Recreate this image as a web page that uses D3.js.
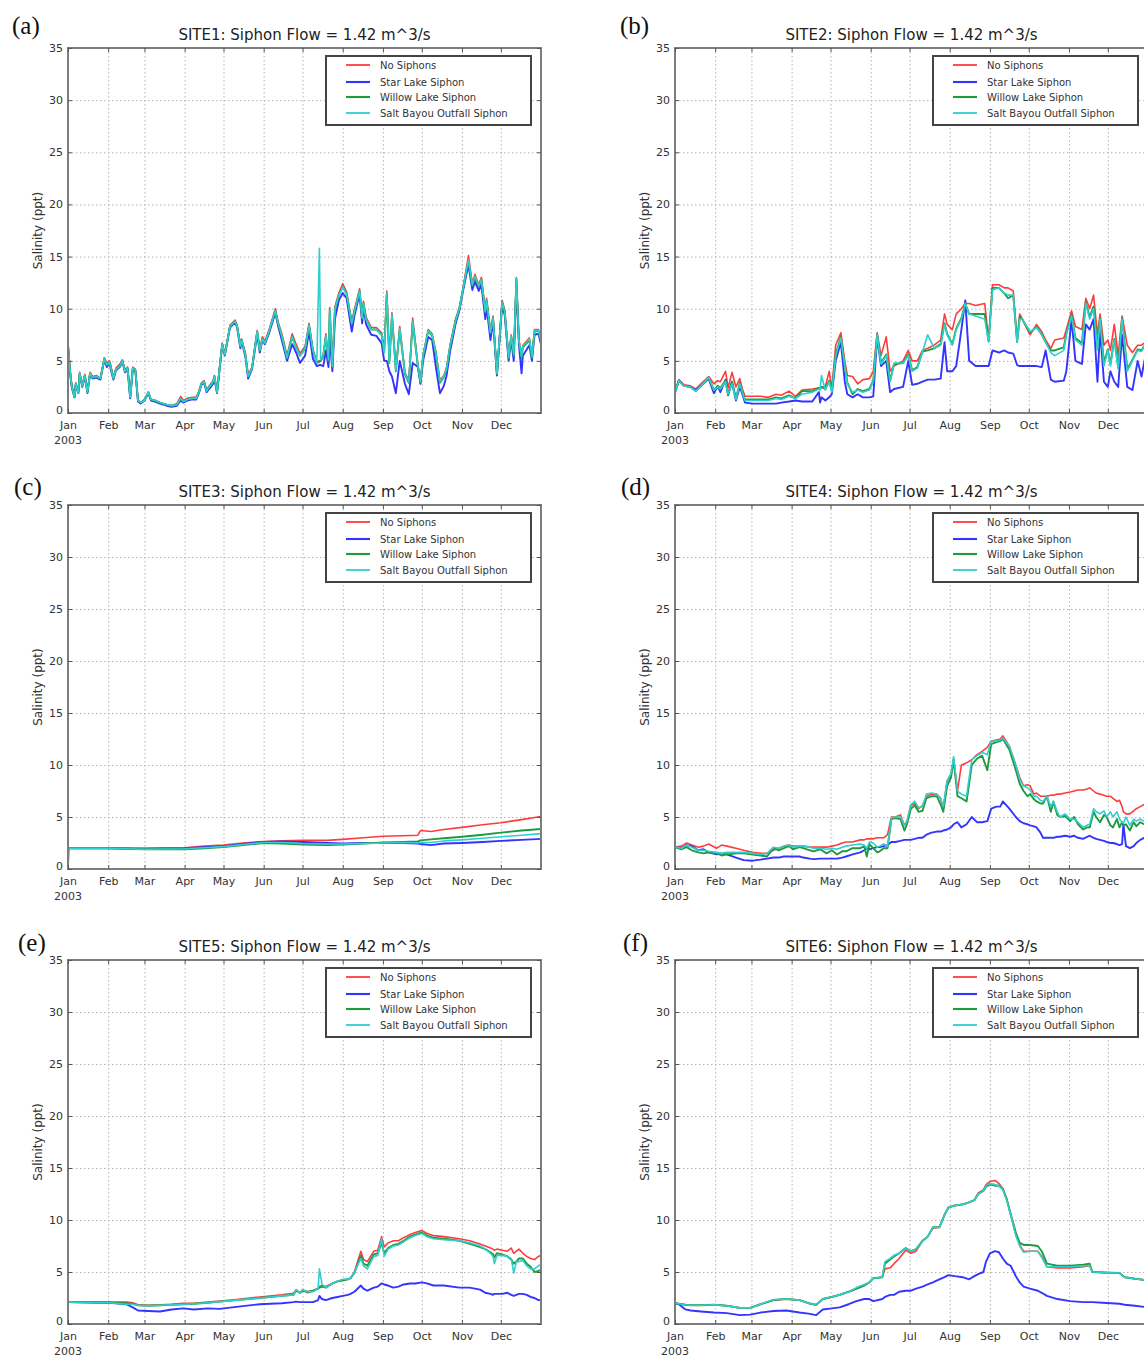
<!DOCTYPE html>
<html>
<head>
<meta charset="utf-8">
<script src="https://cdn.jsdelivr.net/npm/d3@7"></script>
<style>
  body { margin: 0; background: #fff; }
  svg text { font-family: "DejaVu Sans", sans-serif; }
</style>
</head>
<body>
<svg id="chart" width="1144" height="1358"></svg>
<script>
// ---- shared labels ----
const monthLabels = ["Jan","Feb","Mar","Apr","May","Jun","Jul","Aug","Sep","Oct","Nov","Dec"];
const yTickValues = [0, 5, 10, 15, 20, 25, 30, 35];
const seriesNames = ["No Siphons", "Star Lake Siphon", "Willow Lake Siphon", "Salt Bayou Outfall Siphon"];
const siteTitles = [
  "SITE1: Siphon Flow = 1.42 m^3/s", "SITE2: Siphon Flow = 1.42 m^3/s",
  "SITE3: Siphon Flow = 1.42 m^3/s", "SITE4: Siphon Flow = 1.42 m^3/s",
  "SITE5: Siphon Flow = 1.42 m^3/s", "SITE6: Siphon Flow = 1.42 m^3/s"
];
const panelLetters = ["(a)", "(b)", "(c)", "(d)", "(e)", "(f)"];
const yearLabel = "2003";
const yAxisTitle = "Salinity (ppt)";

// ---- SITE1 salinity (ppt), by day of year 2003 ----
const site1Days = [
  0,2,3,5,6,8,9,11,13,15, 17,19,22,25,28,30,32,33,35,37, 40,42,44,46,48,50,52,54,56,59,
  62,64,67,71,76,80,84,87,89,92, 96,99,101,103,105,107,109,112,113,115,
  119,121,125,129,130.5,133,134,137,139,142, 146,148,150,152,155,160,162,165,169,173,
  176,179,183,186,189,192,194,195,197,199, 201,202,204,206,209,212,215,219,221,225,
  227,228,230,234,238,242,244,246,248,250, 253,256,260,263,266,270,272,274,278,281,
  284,287,290,292,295,299,302,305,309,312, 314,317,319,322,323,326,328,331,335,337,
  340,342,344,346,348,350,351,356,358,360, 363,365];
const site1NoSiphons = [
  6.6,3.6,2.6,1.6,2.9,2.0,3.9,2.7,3.7,2.1, 3.9,3.5,3.6,3.3,5.3,4.8,5.0,4.6,3.4,4.3, 4.7,5.1,4.1,4.4,1.6,4.4,4.2,1.2,1.0,1.3,
  2.0,1.3,1.2,1.0,0.8,0.7,0.9,1.6,1.2,1.4, 1.5,1.5,2.1,2.9,3.1,2.2,2.6,3.1,3.6,2.1,
  6.7,5.7,8.4,8.9,8.4,6.6,7.1,5.7,3.6,4.4, 7.9,6.1,7.3,6.9,7.9,10.0,8.8,7.6,5.5,7.6,
  6.6,5.7,6.4,8.6,6.1,4.9,5.0,5.1,5.6,7.6, 5.2,10.1,4.6,10.2,11.5,12.4,11.6,8.8,9.9,11.9,
  9.3,10.7,9.2,8.2,8.2,7.7,6.0,11.7,5.0,9.6, 4.2,8.3,3.9,3.1,9.1,4.6,3.0,5.6,8.0,7.6,
  5.8,3.1,3.6,4.3,6.6,9.0,10.1,12.1,15.1,12.4, 13.3,12.3,13.0,9.9,11.0,7.9,9.3,3.8,10.8,9.9,
  5.4,7.5,5.7,13.0,7.0,5.5,6.5,7.2,5.5,8.0, 8.0,7.0];
const site1StarLake = [
  6.4,3.4,2.4,1.5,2.7,1.9,3.7,2.5,3.5,1.9, 3.7,3.3,3.4,3.2,5.1,4.4,4.8,4.2,3.2,4.1, 4.4,4.9,3.9,4.2,1.4,4.2,4.0,1.1,0.9,1.2,
  1.9,1.2,1.1,0.9,0.7,0.6,0.7,1.2,1.0,1.2, 1.3,1.3,1.9,2.7,2.9,2.0,2.3,2.8,3.3,1.9,
  6.5,5.5,8.2,8.7,8.2,6.2,6.9,5.3,3.3,4.2, 7.6,5.8,7.0,6.6,7.6,9.6,8.4,7.0,5.0,6.6,
  5.8,4.8,5.5,7.8,5.2,4.5,4.6,4.6,4.5,6.0, 4.4,7.2,4.0,9.0,10.8,11.5,11.0,7.8,9.3,11.4,
  8.6,10.2,8.5,7.5,7.4,6.7,5.0,5.0,4.0,3.5, 1.9,5.0,2.8,1.8,4.8,4.4,2.8,5.0,7.3,7.0,
  4.3,1.9,2.6,3.5,6.0,8.5,9.8,11.8,14.2,11.8, 12.6,11.7,12.3,9.0,10.2,7.0,8.8,3.6,10.3,9.4,
  5.0,7.0,5.0,12.3,6.5,3.8,5.5,6.5,5.0,7.5, 7.6,6.6];
const site1WillowLake = [
  6.5,3.5,2.5,1.5,2.8,2.0,3.8,2.6,3.6,2.0, 3.8,3.4,3.5,3.3,5.2,4.6,4.9,4.4,3.3,4.2, 4.5,5.0,4.0,4.3,1.5,4.3,4.1,1.2,1.0,1.2,
  2.0,1.3,1.2,1.0,0.8,0.7,0.8,1.4,1.1,1.3, 1.4,1.4,2.0,2.8,3.0,2.1,2.5,3.0,3.5,2.0,
  6.6,5.6,8.3,8.8,8.3,6.4,7.0,5.5,3.5,4.3, 7.8,6.0,7.1,6.7,7.8,9.8,8.6,7.4,5.3,7.3,
  6.3,5.5,6.2,8.4,6.0,4.8,4.9,5.0,5.4,7.3, 5.0,9.8,4.4,10.0,11.3,12.1,11.4,8.6,9.7,11.7,
  9.1,10.5,9.0,8.0,8.0,7.5,5.8,11.4,4.8,9.3, 4.0,8.0,3.7,2.9,8.7,4.5,2.9,5.4,7.9,7.4,
  5.6,2.9,3.4,4.1,6.5,8.8,10.0,12.0,14.6,12.2, 13.0,12.1,12.8,9.7,10.8,7.7,9.1,3.7,10.6,9.7,
  5.3,7.3,5.5,12.8,6.8,5.3,6.3,7.0,5.3,7.8, 7.9,6.9];
const site1SaltBayou = [
  6.5,3.5,2.5,1.5,2.8,1.9,3.8,2.6,3.6,2.0, 3.8,3.4,3.5,3.3,5.2,4.6,4.9,4.4,3.3,4.2, 4.5,5.0,4.0,4.3,1.5,4.3,4.1,1.2,1.0,1.2,
  2.0,1.3,1.2,1.0,0.8,0.7,0.8,1.4,1.1,1.3, 1.4,1.4,2.0,2.8,3.0,2.1,2.5,3.0,3.5,2.0,
  6.6,5.6,8.3,8.8,8.3,6.4,7.0,5.5,3.5,4.3, 7.8,6.0,7.1,6.7,7.8,9.8,8.6,7.4,5.3,7.3,
  6.3,5.5,6.2,8.4,6.0,4.8,15.8,5.1,5.5,7.4, 5.1,9.9,4.5,10.0,11.3,12.1,11.4,8.6,9.7,11.7,
  9.1,10.5,9.0,8.0,8.0,7.5,5.8,11.5,4.9,9.4, 4.1,8.1,3.8,3.0,8.8,4.5,3.0,5.5,7.9,7.5,
  5.7,3.0,3.5,4.2,6.5,8.8,10.0,12.0,14.7,12.3, 13.1,12.2,12.8,9.7,10.8,7.7,9.1,3.8,10.6,9.7,
  5.3,7.4,5.6,12.9,6.9,5.4,6.4,7.1,5.4,7.9, 7.9,6.9];

// ---- SITE2 ----
const site2Days = [
  0,3,7,12,16,20,26,30,33,35, 39,41,44,47,50,52,54,60,66,72, 78,82,88,93,98,106,111,112,113,116,
  119,121,124,128,131,133,137,141,145,150, 153,156,159,163,166,169,176,180,183,187,
  191,195,200,205,208,210,214,217,221,224, 227,232,239,242,245,250,254,257,261,264,
  266,268,274,279,283,286,290,293,300,302, 306,309,314,317,320,323,326,328,331,334,
  336,339,342,345,349,353,357,360,365];
const site2NoSiphons = [
  2.0,3.2,2.7,2.6,2.3,2.8,3.5,2.8,3.1,3.0, 4.0,2.4,3.9,2.5,3.3,2.3,1.6,1.6,1.6,1.5, 1.8,1.7,2.1,1.6,2.2,2.3,2.4,2.4,2.5,2.5,
  4.0,2.3,6.5,7.7,5.0,3.6,3.5,2.8,3.2,3.3, 4.0,7.7,5.5,7.3,4.0,4.5,5.0,6.0,5.0,5.0,
  6.0,6.2,6.5,7.0,9.5,8.5,8.0,9.5,10.0,10.5, 10.5,10.3,10.5,7.0,12.3,12.3,12.0,12.0,11.7,7.0,
  9.5,9.0,7.5,8.5,7.8,7.0,6.2,7.0,7.2,8.0, 9.8,8.3,8.0,11.0,10.0,11.3,7.5,9.5,6.5,7.0,
  6.0,8.5,5.5,9.3,6.5,5.8,6.5,6.5,7.0];
const site2StarLake = [
  2.0,3.1,2.6,2.5,2.2,2.6,3.3,1.9,2.6,2.0, 3.2,1.7,3.0,1.2,2.5,1.8,1.0,0.9,0.9,0.9, 0.9,1.0,1.1,1.2,1.1,1.1,2.0,1.0,1.5,1.2,
  1.5,1.8,5.0,6.8,3.0,1.8,1.5,1.8,1.5,1.5, 1.6,7.3,4.5,5.0,2.0,2.3,2.5,5.0,2.7,2.8,
  3.0,3.2,3.2,3.3,6.8,4.0,4.0,4.5,8.0,10.8, 5.0,4.5,4.5,4.5,6.0,5.8,6.0,5.8,5.7,4.6,
  4.5,4.5,4.5,4.5,4.4,6.0,3.2,3.0,3.1,4.0, 9.0,5.0,4.7,8.5,8.0,9.0,3.0,8.0,3.0,2.5,
  4.0,3.0,2.5,7.5,2.5,2.2,5.0,3.5,6.8];
const site2WillowLake = [
  2.0,3.1,2.6,2.5,2.1,2.6,3.4,2.2,2.6,2.4, 3.1,1.8,3.0,1.4,2.9,2.0,1.3,1.3,1.3,1.3, 1.5,1.4,1.7,1.4,2.1,2.1,2.4,2.3,2.5,2.3,
  3.1,2.1,5.6,7.3,4.6,2.9,1.8,2.3,2.1,2.3, 3.1,7.5,4.8,5.6,3.1,4.7,4.8,5.6,4.1,4.4,
  5.9,6.0,6.2,6.6,8.6,7.6,6.6,8.1,9.1,10.5, 9.5,9.5,9.5,6.9,12.0,12.0,11.5,11.0,11.3,6.8,
  9.2,9.0,7.7,8.3,7.5,6.8,6.0,6.0,6.3,7.6, 9.4,7.2,6.7,10.6,9.2,10.2,6.2,9.1,4.8,6.1,
  4.7,7.1,4.4,9.1,4.2,5.1,6.1,6.0,7.0];
const site2SaltBayou = [
  2.0,3.1,2.6,2.5,2.1,2.6,3.4,2.2,2.5,2.3, 3.0,1.8,2.8,1.3,2.8,2.0,1.2,1.2,1.2,1.2, 1.4,1.3,1.6,1.4,1.8,2.0,2.3,2.2,3.6,2.2,
  3.0,2.0,5.5,7.2,4.5,2.8,2.0,2.2,2.0,2.2, 3.0,7.5,4.7,5.5,3.0,4.8,4.8,5.5,4.0,4.3,
  5.9,7.5,6.2,6.5,8.5,7.5,6.5,8.0,9.0,10.5, 9.5,9.3,9.0,6.8,11.8,12.0,11.5,11.3,11.3,6.8,
  9.0,9.0,7.8,8.2,7.5,6.8,5.8,5.5,6.0,7.5, 9.3,7.0,6.5,10.5,9.0,10.0,6.0,9.0,4.5,6.0,
  4.5,7.0,4.2,9.0,4.0,5.0,6.0,5.9,7.0];

// ---- SITE3 ----
const site3Days = [0,1,31,59,90, 105,120,135,151,165, 181,200,212,228,243, 258,270,272,280,290, 304,320,334,350,365];
const site3NoSiphons = [2.0,2.0,2.0,2.0,2.05, 2.2,2.3,2.5,2.65,2.7, 2.75,2.75,2.85,3.0,3.15, 3.2,3.25,3.7,3.6,3.8, 4.0,4.25,4.45,4.75,5.05];
const site3StarLake = [2.0,2.0,2.0,1.95,2.0, 2.1,2.2,2.4,2.6,2.65, 2.6,2.5,2.45,2.5,2.5, 2.5,2.45,2.4,2.3,2.45, 2.5,2.6,2.7,2.8,2.9];
const site3WillowLake = [2.0,2.0,2.0,1.9,1.9, 2.0,2.1,2.3,2.5,2.45, 2.35,2.3,2.35,2.45,2.55, 2.6,2.65,2.75,2.85,2.95, 3.1,3.3,3.5,3.7,3.85];
const site3SaltBayou = [0.2,2.0,2.0,1.9,1.95, 2.05,2.15,2.35,2.55,2.55, 2.45,2.4,2.4,2.45,2.5, 2.55,2.5,2.55,2.55,2.7, 2.8,2.95,3.1,3.25,3.4];

// ---- SITE4 ----
const site4Days = [
  0,5,9,13,18,22,26,32,36,40, 47,53,60,66,71,76,80,84,88,91, 96,99,104,107,112,117,121,125,129,132,
  137,143,146,148,150,153,156,158,161,164, 167,170,174,177,179,182,185,188,191,194,
  198,202,205,207,210,213,215,218,221,225, 229,233,237,241,244,248,251,253,258,263,
  266,269,272,274,277,279,282,284,287,290, 292,295,297,301,305,308,311,315,318,320,
  323,325,328,331,333,336,338,341,343,345, 346,348,351,354,356,359,362,365];
const site4NoSiphons = [
  2.1,2.2,2.5,2.3,2.1,2.2,2.4,2.0,2.3,2.2, 2.0,1.8,1.6,1.5,1.5,1.8,2.0,2.2,2.3,2.2, 2.2,2.2,2.1,2.1,2.1,2.1,2.2,2.3,2.5,2.6,
  2.6,2.8,2.8,2.9,2.9,2.9,3.0,3.0,3.0,3.3, 5.0,5.0,5.2,4.2,4.6,6.1,6.3,5.8,6.1,7.0,
  7.2,7.2,6.8,5.8,8.5,9.0,10.6,7.5,10.0,10.2, 10.5,11.0,11.3,11.7,12.3,12.4,12.5,12.8,11.8,10.0,
  8.8,8.0,8.1,8.0,7.2,7.3,7.0,7.0,7.0,7.1, 7.1,7.2,7.2,7.3,7.4,7.5,7.6,7.6,7.7,7.8,
  7.5,7.3,7.2,7.1,7.0,7.0,6.8,6.5,6.6,6.0, 5.5,5.3,5.3,5.6,5.8,6.0,6.2,6.3];
const site4StarLake = [
  2.1,2.0,2.3,2.2,1.8,1.9,1.6,1.4,1.5,1.4, 1.1,0.85,0.8,0.9,1.0,1.1,1.1,1.2,1.2,1.2, 1.2,1.1,1.0,0.95,1.0,1.0,1.0,1.0,1.1,1.2,
  1.4,1.6,1.8,2.0,1.9,2.0,2.1,2.1,2.2,2.3, 2.6,2.6,2.7,2.8,2.8,2.8,2.9,3.0,3.0,3.3,
  3.5,3.6,3.6,3.7,3.8,4.0,4.3,4.5,4.0,4.3, 5.0,4.5,4.5,4.6,5.8,6.0,6.0,6.5,5.8,5.0,
  4.6,4.4,4.3,4.2,4.1,4.0,3.5,3.0,3.0,3.0, 3.0,3.1,3.1,3.2,3.1,3.2,3.0,2.9,3.1,3.2,
  3.0,2.9,2.8,2.7,2.6,2.5,2.5,2.4,2.3,2.4, 4.3,2.2,2.0,2.2,2.5,2.8,3.0,3.1];
const site4WillowLake = [
  2.1,1.9,2.1,1.8,1.6,1.5,1.6,1.5,1.3,1.4, 1.5,1.5,1.4,1.3,1.2,2.0,1.8,2.0,2.2,1.9, 2.1,2.0,1.8,1.7,1.9,1.5,1.8,1.4,1.7,1.7,
  2.0,2.0,2.2,1.2,2.4,2.0,1.6,1.7,2.0,2.0, 4.8,4.9,4.8,3.7,4.3,5.8,6.1,5.5,5.6,6.8,
  7.0,7.0,6.2,5.5,8.0,8.8,10.5,7.0,6.8,6.5, 10.0,10.6,10.9,9.5,12.0,12.2,12.3,12.5,11.5,9.5,
  8.2,7.5,7.0,7.2,6.7,6.5,6.3,6.3,7.0,5.5, 6.5,5.2,5.0,5.1,4.6,5.0,4.3,3.8,4.0,4.0,
  5.5,5.0,4.5,5.2,5.0,4.2,4.0,4.8,4.0,4.5, 4.2,4.3,3.7,4.5,4.1,4.5,4.3,4.6];
const site4SaltBayou = [
  2.1,2.0,2.3,2.1,1.8,1.8,1.7,1.6,1.5,1.6, 1.6,1.6,1.5,1.4,1.5,2.1,2.0,2.2,2.3,2.1, 2.2,2.2,2.1,2.0,2.0,1.9,2.0,1.9,2.1,2.2,
  2.3,2.4,2.3,2.0,2.6,2.5,2.1,2.2,2.4,2.2, 4.9,5.0,5.0,4.2,4.6,6.2,6.5,5.9,6.0,7.2,
  7.3,7.2,6.7,6.0,8.5,9.2,10.8,7.5,7.2,7.0, 10.5,10.9,11.2,11.0,12.3,12.3,12.4,12.6,11.8,10.0,
  8.6,8.0,7.8,7.6,7.0,7.0,6.6,6.5,7.0,6.0, 6.5,5.5,5.0,5.3,4.8,4.8,4.5,4.0,4.2,4.3,
  5.8,5.5,5.3,5.6,5.0,5.5,5.0,5.5,4.8,4.5, 4.4,5.0,4.2,4.8,4.6,4.8,4.6,4.8];

// ---- SITE5 ----
const site5Days = [
  0,32,45,50,54,62,71,80,89,97, 108,117,130,148,165,174,176,179,181,185,
  189,193,194,196,199,204,208,212,216,218, 221,226,228,231,236,239,242,244,247,251,
  255,259,264,268,273,277,282,290,302,310, 318,322,326,328,329,331,335,339,342,344,
  346,348,351,354,357,360,363,365];
const site5NoSiphons = [
  2.1,2.1,2.1,2.05,1.85,1.8,1.85,1.9,2.0,2.0, 2.1,2.2,2.35,2.6,2.8,2.95,3.3,3.0,3.3,3.0,
  3.2,3.4,3.6,3.7,3.6,3.9,4.1,4.2,4.3,4.4, 5.0,7.0,6.2,6.0,7.0,7.1,8.4,7.4,7.8,8.0,
  8.0,8.3,8.6,8.8,9.0,8.7,8.5,8.4,8.2,8.0, 7.7,7.5,7.3,7.2,7.1,7.2,7.1,7.0,7.3,6.8,
  7.0,7.2,6.8,6.5,6.3,6.2,6.5,6.6];
const site5StarLake = [
  2.1,2.05,1.9,1.6,1.3,1.25,1.2,1.4,1.5,1.4, 1.5,1.45,1.65,1.9,2.0,2.1,2.15,2.1,2.1,2.1,
  2.1,2.3,2.7,2.4,2.3,2.5,2.6,2.7,2.8,2.9, 3.1,3.7,3.4,3.2,3.5,3.6,3.9,3.8,3.7,3.5,
  3.6,3.8,3.9,3.9,4.0,3.9,3.7,3.7,3.5,3.5, 3.3,3.0,2.9,2.8,2.9,2.9,2.9,3.0,2.8,2.7,
  2.8,2.9,2.9,2.8,2.6,2.5,2.3,2.3];
const site5WillowLake = [
  2.1,2.05,2.0,1.95,1.8,1.75,1.8,1.85,1.9,1.95, 2.05,2.15,2.3,2.5,2.7,2.8,3.2,3.0,3.2,3.1,
  3.2,3.4,3.5,3.6,3.5,3.9,4.1,4.2,4.3,4.4, 4.9,6.6,5.8,5.6,6.7,6.8,7.8,6.8,7.3,7.6,
  7.7,8.0,8.4,8.6,8.8,8.5,8.3,8.2,8.0,7.7, 7.4,7.2,6.9,6.7,6.4,6.8,6.7,6.5,6.2,5.8,
  6.0,6.3,6.3,5.8,5.5,5.0,5.1,5.2];
const site5SaltBayou = [
  2.1,2.05,1.9,1.9,1.8,1.75,1.8,1.85,1.9,1.95, 2.05,2.15,2.3,2.5,2.7,2.8,3.3,3.0,3.3,3.1,
  3.1,3.4,5.3,3.8,3.5,3.9,4.1,4.3,4.3,4.4, 5.0,6.3,5.6,5.3,6.5,6.6,8.2,6.5,7.2,7.5,
  7.6,7.9,8.3,8.5,8.7,8.4,8.2,8.1,8.0,7.8, 7.5,7.2,6.8,6.5,5.8,6.6,6.6,6.5,6.3,4.9,
  6.0,6.0,6.1,5.6,5.3,5.3,5.6,5.7];

// ---- SITE6 ----
const site6Days = [
  0,3,8,12,20,30,40,50,58,66, 76,86,96,103,109,114,121,127,134,140,
  146,150,153,160,162,166,169,173,178,182, 186,191,195,199,204,208,211,216,222,227,
  231,234,238,240,243,247,250,253,256,259, 263,266,269,274,280,283,287,295,305,315,
  320,322,330,343,347,355,365];
const site6NoSiphons = [
  2.0,1.95,1.85,1.8,1.8,1.85,1.75,1.55,1.55,1.9, 2.3,2.4,2.3,2.0,1.8,2.4,2.6,2.8,3.1,3.4,
  3.7,4.0,4.4,4.5,5.3,5.4,5.8,6.3,7.1,6.8, 7.0,8.0,8.4,9.2,9.3,10.5,11.2,11.4,11.5,11.7,
  11.9,12.6,12.9,13.4,13.7,13.8,13.5,13.0,12.0,10.5, 8.6,7.6,7.0,7.0,7.0,6.5,5.5,5.4,5.4,5.5,
  5.6,5.0,4.95,4.9,4.5,4.35,4.2];
const site6StarLake = [
  2.0,1.9,1.4,1.3,1.2,1.1,1.05,0.85,0.9,1.1, 1.25,1.3,1.1,1.0,0.85,1.4,1.5,1.6,1.9,2.2,
  2.4,2.4,2.2,2.4,2.6,2.8,2.8,3.1,3.2,3.2, 3.4,3.6,3.8,4.0,4.3,4.5,4.7,4.6,4.5,4.3,
  4.6,4.8,5.0,6.0,6.8,7.0,6.9,6.3,5.8,5.6, 4.6,4.0,3.6,3.4,3.2,3.0,2.7,2.4,2.2,2.1,
  2.1,2.1,2.05,1.95,1.85,1.75,1.6];
const site6WillowLake = [
  2.0,1.95,1.85,1.8,1.8,1.85,1.75,1.55,1.55,1.9, 2.3,2.4,2.3,2.0,1.85,2.4,2.6,2.8,3.1,3.4,
  3.7,4.0,4.4,4.5,5.8,6.2,6.5,6.8,7.3,7.0, 7.2,8.0,8.4,9.3,9.3,10.5,11.2,11.4,11.5,11.7,
  11.9,12.5,12.8,13.2,13.4,13.3,13.3,13.0,12.0,10.6, 8.8,7.8,7.6,7.6,7.5,7.0,5.8,5.6,5.6,5.7,
  5.8,5.0,4.95,4.9,4.5,4.35,4.2];
const site6SaltBayou = [
  2.0,1.95,1.85,1.8,1.8,1.85,1.75,1.55,1.55,1.9, 2.35,2.4,2.3,2.0,1.85,2.4,2.6,2.8,3.1,3.5,
  3.8,4.0,4.4,4.5,6.0,6.3,6.6,6.8,7.3,7.0, 7.2,8.0,8.4,9.3,9.3,10.5,11.2,11.4,11.5,11.7,
  11.9,12.5,12.8,13.3,13.5,13.4,13.3,12.9,11.9,10.5, 8.5,7.5,6.9,7.0,7.0,6.4,5.5,5.5,5.5,5.6,
  5.6,5.0,4.95,4.9,4.5,4.35,4.2];

// ---- panel assembly ----
const sites = [
  { days: site1Days, values: [site1NoSiphons, site1StarLake, site1WillowLake, site1SaltBayou] },
  { days: site2Days, values: [site2NoSiphons, site2StarLake, site2WillowLake, site2SaltBayou] },
  { days: site3Days, values: [site3NoSiphons, site3StarLake, site3WillowLake, site3SaltBayou] },
  { days: site4Days, values: [site4NoSiphons, site4StarLake, site4WillowLake, site4SaltBayou] },
  { days: site5Days, values: [site5NoSiphons, site5StarLake, site5WillowLake, site5SaltBayou] },
  { days: site6Days, values: [site6NoSiphons, site6StarLake, site6WillowLake, site6SaltBayou] }
];

// ---- layout & style ----
const colLeft = [68, 675];
const rowTop = [48, 505, 960];
const rowHeight = [365, 364, 364];
const plotW = 473;
const letterPos = [[12, 34], [620, 34], [14, 495], [621, 495], [18, 951], [623, 951]];
const lineColors = ["#ff3c3c", "#3434ff", "#1f9a3e", "#2fcfcf"];
const lineWidths = [1.6, 1.9, 1.9, 1.6];

const svg = d3.select("#chart");
const t0 = new Date(Date.UTC(2003, 0, 1));
const dayToDate = d => new Date(t0.getTime() + d * 86400000);
const monthStarts = monthLabels.map((m, i) => new Date(Date.UTC(2003, i, 1)));

sites.forEach((site, idx) => {
  const col = idx % 2, row = Math.floor(idx / 2);
  const h = rowHeight[row];
  const x0 = colLeft[col], y0 = rowTop[row];

  const x = d3.scaleUtc().domain([t0, new Date(Date.UTC(2004, 0, 1))]).range([0, plotW]);
  const y = d3.scaleLinear().domain([0, 35]).range([h, 0]);

  const g = svg.append("g").attr("transform", `translate(${x0},${y0})`);

  // dotted grid
  const gx = g.append("g").call(d3.axisBottom(x).tickValues(monthStarts).tickSize(h).tickFormat(""));
  const gy = g.append("g").call(d3.axisLeft(y).tickValues(yTickValues).tickSize(-plotW).tickFormat(""));
  [gx, gy].forEach(a => {
    a.select(".domain").remove();
    a.selectAll("line").attr("stroke", "#b4b4b4").attr("stroke-width", 1).attr("stroke-dasharray", "1.5,2.5");
  });

  // series
  const clipId = "clip" + idx;
  g.append("clipPath").attr("id", clipId).append("rect").attr("width", plotW).attr("height", h);
  const line = d3.line()
    .defined(d => d[1] != null && !isNaN(d[1]))
    .x(d => x(dayToDate(d[0])))
    .y(d => y(d[1]));
  site.values.forEach((vals, s) => {
    const pts = site.days.map((d, i) => [d, vals[i]]);
    g.append("path")
      .attr("clip-path", `url(#${clipId})`)
      .attr("d", line(pts))
      .attr("fill", "none")
      .attr("stroke", lineColors[s])
      .attr("stroke-width", lineWidths[s])
      .attr("stroke-linejoin", "round");
  });

  // frame
  g.append("rect").attr("width", plotW).attr("height", h)
    .attr("fill", "none").attr("stroke", "#7d7d7d").attr("stroke-width", 2);

  // axes with inward ticks
  const styleAxis = a => {
    a.select(".domain").remove();
    a.selectAll("line").attr("stroke", "#555");
    a.selectAll("text").attr("fill", "#333").style("font-size", "11px").style("font-family", "DejaVu Sans, sans-serif");
  };
  g.append("g").attr("transform", `translate(0,${h})`)
    .call(d3.axisBottom(x).tickValues(monthStarts).tickFormat((d, i) => monthLabels[i])
      .tickSizeInner(-4).tickSizeOuter(0).tickPadding(8))
    .call(styleAxis);
  g.append("g")
    .call(d3.axisTop(x).tickValues(monthStarts).tickFormat("").tickSizeInner(-4).tickSizeOuter(0))
    .call(styleAxis);
  const yAx = g.append("g")
    .call(d3.axisLeft(y).tickValues(yTickValues).tickSizeInner(-4).tickSizeOuter(0).tickPadding(5))
    .call(styleAxis);
  // the zero label sits a little above the axis line so it clears the month names
  yAx.selectAll(".tick").filter(d => d === 0).select("text").attr("dy", "0.05em");
  g.append("g").attr("transform", `translate(${plotW},0)`)
    .call(d3.axisRight(y).tickValues(yTickValues).tickFormat("").tickSizeInner(-4).tickSizeOuter(0))
    .call(styleAxis);

  // year under the first month
  g.append("text").attr("x", x(t0)).attr("y", h + 31)
    .attr("text-anchor", "middle").attr("fill", "#333").style("font-size", "11px").text(yearLabel);

  // y-axis title
  g.append("text").attr("transform", `translate(-26,${h / 2}) rotate(-90)`)
    .attr("text-anchor", "middle").attr("fill", "#333").style("font-size", "12px").text(yAxisTitle);

  // title
  g.append("text").attr("x", plotW / 2).attr("y", -8)
    .attr("text-anchor", "middle").attr("fill", "#222").style("font-size", "15px").text(siteTitles[idx]);

  // legend
  const lg = g.append("g").attr("transform", "translate(258,8)");
  lg.append("rect").attr("width", 205).attr("height", 69)
    .attr("fill", "#fff").attr("stroke", "#444").attr("stroke-width", 2);
  const rowY = [9, 26, 41, 57];
  seriesNames.forEach((name, s) => {
    lg.append("line").attr("x1", 20).attr("x2", 44).attr("y1", rowY[s]).attr("y2", rowY[s])
      .attr("stroke", lineColors[s]).attr("stroke-width", lineWidths[s] + 0.2);
    lg.append("text").attr("x", 54).attr("y", rowY[s]).attr("dy", "0.35em")
      .attr("fill", "#333").style("font-size", "10px").text(name);
  });

  // panel letter
  svg.append("text").attr("x", letterPos[idx][0]).attr("y", letterPos[idx][1])
    .style("font-family", "Liberation Serif, serif").style("font-size", "25px").attr("fill", "#111")
    .text(panelLetters[idx]);
});
</script>
</body>
</html>
